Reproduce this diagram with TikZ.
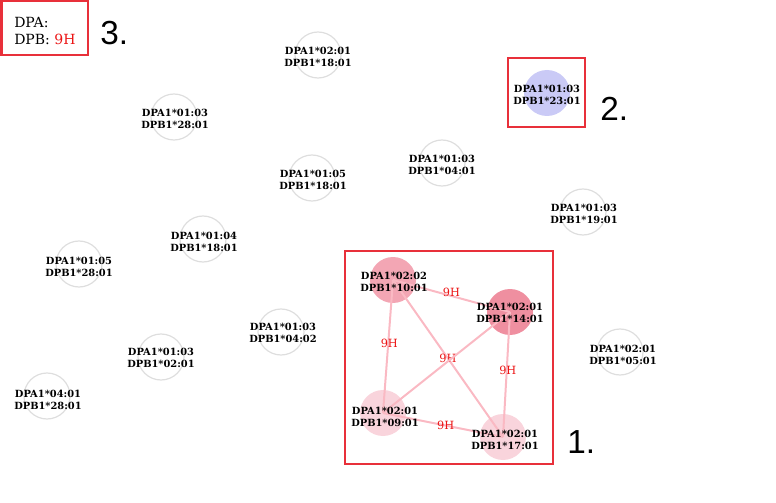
\documentclass[tikz,border=0pt]{standalone}
\usepackage{fontspec}
\usepackage{xcolor}
\usepackage{tikz}
\usetikzlibrary{positioning}
\newfontfamily\allelefont{DejaVu Serif}
\newfontfamily\markfont{Liberation Sans}
\definecolor{ringgrey}{RGB}{222,222,222}
\definecolor{boxred}{RGB}{232,48,58}
\definecolor{edgepink}{RGB}{250,185,195}
\definecolor{pinkmid}{RGB}{243,166,180}
\definecolor{pinkdark}{RGB}{239,143,160}
\definecolor{pinklight}{RGB}{249,212,220}
\definecolor{bluenode}{RGB}{202,202,246}
\definecolor{labred}{RGB}{235,20,20}

\begin{document}
\begin{tikzpicture}[x=0.75pt,y=-0.75pt,
    hla/.style={circle,minimum size=34.5pt,inner sep=0pt},
    plain/.style={hla,draw=ringgrey,line width=0.9pt},
    txt/.style={align=center,inner sep=0pt,font=\allelefont\bfseries\fontsize{7.4}{8.6}\selectfont},
    link/.style={draw=edgepink,line width=1.5pt},
    hval/.style={text=labred,inner sep=1pt,font=\allelefont\fontsize{8.5}{9}\selectfont},
    markbox/.style={draw=boxred,line width=1.5pt},
    marknum/.style={font=\markfont\fontsize{25}{25}\selectfont,inner sep=0pt,anchor=base west}]
            \useasboundingbox (0,0) rectangle (776,503);
            % Single alleles
            \node[plain] (a1) at (318,55) {};
            \node[txt] (a1t) at (318,57) {DPA1*02:01\\DPB1*18:01};
            \node[plain] (a2) at (174,117) {};
            \node[txt] (a2t) at (175,119) {DPA1*01:03\\DPB1*28:01};
            \node[plain] (a3) at (312,178) {};
            \node[txt] (a3t) at (313,180) {DPA1*01:05\\DPB1*18:01};
            \node[plain] (a4) at (442,163) {};
            \node[txt] (a4t) at (442,165) {DPA1*01:03\\DPB1*04:01};
            \node[plain] (a5) at (583,212) {};
            \node[txt] (a5t) at (584,214) {DPA1*01:03\\DPB1*19:01};
            \node[plain] (a6) at (203,239) {};
            \node[txt] (a6t) at (204,242) {DPA1*01:04\\DPB1*18:01};
            \node[plain] (a7) at (79,264) {};
            \node[txt] (a7t) at (79,267) {DPA1*01:05\\DPB1*28:01};
            \node[plain] (a8) at (281,332) {};
            \node[txt] (a8t) at (283,333) {DPA1*01:03\\DPB1*04:02};
            \node[plain] (a9) at (161,357) {};
            \node[txt] (a9t) at (161,358) {DPA1*01:03\\DPB1*02:01};
            \node[plain] (a10) at (47,396) {};
            \node[txt] (a10t) at (48,400) {DPA1*04:01\\DPB1*28:01};
            \node[plain] (a11) at (620,352) {};
            \node[txt] (a11t) at (623,355) {DPA1*02:01\\DPB1*05:01};
            % 2. highlighted allele
            \node[hla,fill=bluenode] (b1) at (547,93) {};
            \node[txt] (b1t) at (547,95) {DPA1*01:03\\DPB1*23:01};
            \node[markbox,minimum width=57.75pt,minimum height=51.75pt,inner sep=0pt] (box2) at (546.5,93) {};
            \node[marknum] (n2) at (600,121) {2.};
            % 1. cluster
            \node[hla,fill=pinkmid] (c1) at (393,280) {};
            \node[hla,fill=pinkdark] (c2) at (510,312) {};
            \node[hla,fill=pinklight] (c3) at (383,413) {};
            \node[hla,fill=pinklight] (c4) at (503,437) {};
            \draw[link] (c1.center) -- node[hval,pos=0.5,yshift=3pt] (e1) {9H} (c2.center);
            \draw[link] (c1.center) -- node[hval,pos=0.5,yshift=2pt,xshift=1pt] (e2) {9H} (c3.center);
            \draw[link] (c1.center) -- node[hval,pos=0.5] (e3) {9H} (c4.center);
            \draw[link] (c2.center) -- (c3.center);
            \draw[link] (c2.center) -- node[hval,pos=0.5,yshift=3pt,xshift=1pt] (e5) {9H} (c4.center);
            \draw[link] (c3.center) -- node[hval,pos=0.5,xshift=2pt] (e6) {9H} (c4.center);
            \node[txt] (c1t) at (394,282) {DPA1*02:02\\DPB1*10:01};
            \node[txt] (c2t) at (510,313) {DPA1*02:01\\DPB1*14:01};
            \node[txt] (c3t) at (385,417) {DPA1*02:01\\DPB1*09:01};
            \node[txt] (c4t) at (505,440) {DPA1*02:01\\DPB1*17:01};
            \node[markbox,minimum width=156pt,minimum height=159.75pt,inner sep=0pt] (box1) at (449,357.5) {};
            \node[marknum] (n1) at (567,453) {1.};
            % 3. legend
            \node[markbox,minimum width=64.5pt,minimum height=40.5pt,inner sep=0pt] (box3) at (44.5,28) {};
            \node[anchor=base west,inner sep=0pt,font=\allelefont\fontsize{10.5}{12}\selectfont] (leg1) at (14,28) {DPA:};
            \node[anchor=base west,inner sep=0pt,font=\allelefont\fontsize{10.5}{12}\selectfont] (leg2) at (14,45) {DPB: \textcolor{labred}{9H}};
            \node[marknum] (n3) at (100,45) {3.};
        \end{tikzpicture}
\end{document}
